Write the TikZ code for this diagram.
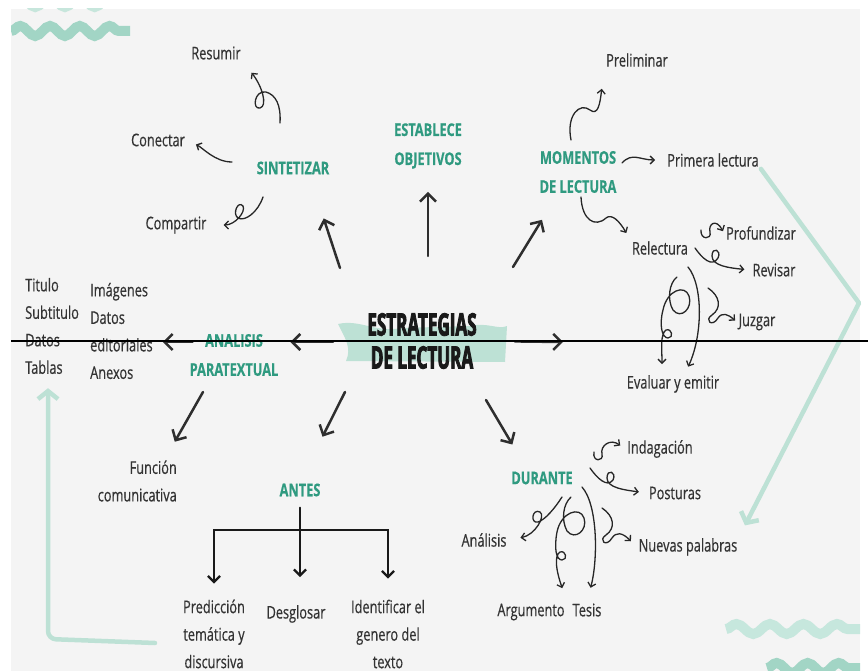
\documentclass[tikz,border=0pt]{standalone}
\usepackage{fontspec}
\setmainfont{Open Sans}[FakeStretch=0.73,FakeBold=0.5]
\newfontfamily\gruesa{Open Sans}[FakeStretch=0.55,FakeBold=2.6]
\usepackage{tikz}
\usetikzlibrary{arrows.meta,calc,positioning}
\usetikzlibrary{decorations.pathmorphing}
\definecolor{fondo}{HTML}{F4F4F4}
\definecolor{verde}{HTML}{2F9A80}
\definecolor{menta}{HTML}{BDE1D5}
\definecolor{mentaclara}{HTML}{C6E7DD}
\definecolor{mentaosc}{HTML}{A2D5C5}
\definecolor{tinta}{HTML}{333333}
\definecolor{trazo}{HTML}{2E2E2E}

\begin{document}
\begin{tikzpicture}[x=1pt,y=-1pt]
\tikzstyle{hoja}=[font=\fontsize{17.5}{27.5}\selectfont,text=tinta,align=center,inner sep=2pt]
\tikzstyle{tema}=[font=\fontsize{17.5}{29}\selectfont\bfseries,text=verde,align=center,inner sep=2pt]
\tikzstyle{titulo}=[font=\gruesa\fontsize{31}{33}\selectfont\bfseries,text=black!90,align=center,inner sep=2pt]
\tikzstyle{flecha}=[-{Straight Barb[length=8pt,width=16pt]},line width=2.5pt,draw=trazo,line cap=round]
\tikzstyle{rama}=[-{Straight Barb[length=6pt,width=12pt]},line width=2.2pt,draw=black!90,line cap=round]
\tikzstyle{rizo}=[-{Straight Barb[length=4pt,width=8pt]},line width=1.3pt,draw=black!85,line cap=round]
\tikzstyle{cinta}=[line width=4.5pt,draw=menta,line cap=round,line join=round]
\tikzstyle{ola}=[line width=10pt,decorate,decoration={snake,amplitude=5pt,segment length=29.75pt}]

\useasboundingbox (0,0) rectangle (868,671);
\fill[white] (0,0) rectangle (868,671);
\fill[fondo] (11,9) rectangle (860,671);
\begin{scope}
\clip (11,9) rectangle (860,671);
\draw[ola,draw=mentaosc] (11,31) -- (130,31);
\draw[ola,draw=mentaosc!60] (11,2) -- (130,2);
\draw[ola,draw=mentaclara,decoration={segment length=33.5pt}] (726,629) -- (860,629);
\draw[ola,draw=mentaosc,decoration={segment length=31pt}] (767,668) -- (860,668);
\end{scope}

\fill[menta] (338,324) .. controls (360,319) and (375,333) .. (402,328) -- (470,326)
  .. controls (488,322) and (498,330) .. (507,326) -- (505,362) -- (346,361)
  .. controls (352,348) and (345,338) .. (338,324) -- cycle;

\node[titulo] (centro) at (422,341) {ESTRATEGIAS\\DE LECTURA};

\node[tema] (sint) at (293,168) {SINTETIZAR};
\node[tema] (estab) at (428,146) {ESTABLECE\\OBJETIVOS};
\node[tema] (mom) at (578,172) {MOMENTOS\\DE LECTURA};
\node[tema] (anal) at (234,355) {ANALISIS\\PARATEXTUAL};
\node[tema] (antes) at (300,490) {ANTES};
\node[tema] (dur) at (542,478) {DURANTE};

\node[hoja] (res) at (216,53) {Resumir};
\node[hoja] (con) at (158,140) {Conectar};
\node[hoja] (comp) at (176,225) {Compartir};
\node[hoja] (prel) at (637,60) {Preliminar};
\node[hoja] (prim) at (713,160) {Primera lectura};
\node[hoja] (relec) at (660,248) {Relectura};
\node[hoja] (prof) at (761,233) {Profundizar};
\node[hoja] (rev) at (774,270) {Revisar};
\node[hoja] (juz) at (757,322) {Juzgar};
\node[hoja] (eval) at (673,384) {Evaluar y emitir};
\node[hoja,align=left,anchor=west] (tit) at (23,326) {Titulo\\Subtitulo\\Datos\\Tablas};
\node[hoja,align=left,anchor=west] (ima) at (88,331) {Imágenes\\Datos\\editoriales\\Anexos};
\node[hoja,align=right,anchor=east] (func) at (179,481) {Función\\comunicativa};
\node[hoja] (pred) at (214,634) {Predicción\\temática y\\discursiva};
\node[hoja] (desg) at (296,614) {Desglosar};
\node[hoja] (iden) at (388,634) {Identificar el\\genero del\\texto};
\node[hoja] (inda) at (660,449) {Indagación};
\node[hoja] (post) at (675,493) {Posturas};
\node[hoja] (anali) at (484,540) {Análisis};
\node[hoja] (nuev) at (688,547) {Nuevas palabras};
\node[hoja] (argu) at (531,612) {Argumento};
\node[hoja] (tesis) at (587,610) {Tesis};

\coordinate (a1) at (340,268);
\coordinate (a2) at (428,256);
\coordinate (a3) at (513,267);
\coordinate (a4) at (333,342);
\coordinate (a6) at (563,342);
\coordinate (a7) at (345,392);
\coordinate (a8) at (203,392);
\coordinate (a9) at (486,400);
\draw[flecha,shorten >=44pt] (a1) -- (sint.-27);
\draw[flecha,shorten >=21pt] (a2) -- (estab.south);
\draw[flecha,shorten >=29pt] (a3) -- (mom.-132);
\draw[flecha,shorten >=10pt] (a4) -- (anal.east |- a4);
\draw[flecha,shorten <=-5pt,shorten >=8pt] (anal.west |- a4) -- (ima.east |- a4);
\draw[flecha,shorten <=36pt] (centro.east) -- (a6);
\draw[flecha,shorten >=50pt] (a7) -- (antes.north);
\draw[flecha,shorten >=19pt] (a8) -- (func.39);
\draw[flecha,shorten >=29pt] (a9) -- (dur.150);

\coordinate (b) at (298,530);
\draw[rama,shorten <=9pt,shorten >=26pt] (antes.south) -- (antes.south |- desg.north);
\draw[rama,shorten >=14pt] (b) -- (pred.north |- b) -- (pred.north);
\draw[rama,shorten >=19pt] (b) -- (iden.north |- b) -- (iden.north);

\coordinate (r1) at (280,123);
\coordinate (r2) at (232,162);
\coordinate (r3) at (263,197);
\draw[rizo,shorten >=14pt] (r1) .. controls (281,105) and (276,95) .. (266,92)
  .. controls (254,90) and (252,110) .. (260,108)
  .. controls (268,106) and (262,86) .. (res.south east);
\draw[rizo,shorten >=10pt] (r2) .. controls (215,162) and (203,148) .. (con.east);
\draw[rizo,shorten >=15pt] (r3) .. controls (258,212) and (245,222) .. (238,218)
  .. controls (232,214) and (238,200) .. (243,206)
  .. controls (246,212) and (235,225) .. (comp.east);

\coordinate (m1) at (571,140);
\coordinate (m2) at (622,163);
\coordinate (m3) at (581,197);
\draw[rizo,shorten >=20pt] (m1) .. controls (566,115) and (580,102) .. (590,110)
  .. controls (598,116) and (600,104) .. (prel.south west);
\draw[rizo,shorten >=10pt] (m2) .. controls (632,152) and (640,160) .. (prim.west);
\draw[rizo,shorten >=7pt] (m3) .. controls (582,220) and (595,228) .. (606,218)
  .. controls (612,213) and (620,222) .. (relec.north west);

\coordinate (e1) at (701,230);
\coordinate (e2) at (695,248);
\coordinate (e3) at (708,288);
\coordinate (e4) at (688,267);
\coordinate (e5) at (677,277);
\draw[rizo,shorten >=2pt] (e1) .. controls (700,240) and (712,240) .. (710,232)
  .. controls (708,224) and (716,218) .. (prof.west);
\draw[rizo,shorten >=6pt] (e2) .. controls (702,258) and (712,268) .. (718,258)
  .. controls (722,250) and (712,246) .. (712,256)
  .. controls (712,266) and (730,268) .. (rev.west);
\draw[rizo,shorten >=2pt] (e3) .. controls (720,296) and (722,308) .. (712,315)
  .. controls (704,320) and (712,328) .. (718,318)
  .. controls (722,312) and (728,314) .. (juz.west);
\draw[rizo,shorten >=7pt] (e4) .. controls (703,285) and (703,335) .. (eval.42);
\draw[rizo,shorten >=9pt] (e5) .. controls (669,283) and (667,300) .. (673,310)
  .. controls (681,320) and (693,308) .. (689,296)
  .. controls (685,284) and (667,290) .. (663,310)
  .. controls (659,325) and (662,338) .. (668,338)
  .. controls (674,338) and (672,328) .. (666,330)
  .. controls (660,334) and (662,350) .. (eval.135);

\coordinate (d1) at (594,452);
\coordinate (d2) at (590,468);
\coordinate (d3) at (602,508);
\coordinate (d4) at (562,497);
\coordinate (d5) at (582,487);
\coordinate (d6) at (571,497);
\draw[rizo,shorten >=6pt] (d1) .. controls (592,462) and (604,462) .. (602,454)
  .. controls (600,446) and (610,438) .. (inda.west);
\draw[rizo,shorten >=8pt] (d2) .. controls (597,478) and (607,488) .. (613,480)
  .. controls (617,472) and (607,468) .. (607,478)
  .. controls (607,488) and (625,490) .. (post.west);
\draw[rizo,shorten >=8pt] (d3) .. controls (614,516) and (616,528) .. (606,535)
  .. controls (598,540) and (606,548) .. (612,538)
  .. controls (616,532) and (622,532) .. (nuev.west);
\draw[rizo,shorten >=12pt] (d4) .. controls (555,508) and (545,520) .. (538,522)
  .. controls (530,524) and (532,508) .. (540,512)
  .. controls (546,516) and (535,535) .. (anali.east);
\draw[rizo,shorten >=14pt] (d5) .. controls (598,505) and (598,560) .. (tesis.north);
\draw[rizo,shorten >=14pt] (d6) .. controls (563,504) and (561,520) .. (567,531)
  .. controls (575,541) and (588,530) .. (584,518)
  .. controls (580,506) and (561,512) .. (557,532)
  .. controls (554,548) and (556,560) .. (562,560)
  .. controls (568,560) and (566,550) .. (560,552)
  .. controls (554,556) and (556,570) .. (argu.north east);

\coordinate (apice) at (859,303);
\coordinate (l0) at (155,643);
\coordinate (esq) at (48,639);
\draw[cinta,-{Straight Barb[length=8pt,width=20pt]},shorten >=12pt] (prim.south east) -- (apice) -- (nuev.north east);
\draw[cinta,-{Straight Barb[length=8pt,width=20pt]},rounded corners=8pt,shorten >=12pt] (l0) -- (esq) -- (tit.south -| esq);

\draw[line width=2.2pt,black] (11,341) -- (868,341);
\end{tikzpicture}
\end{document}
